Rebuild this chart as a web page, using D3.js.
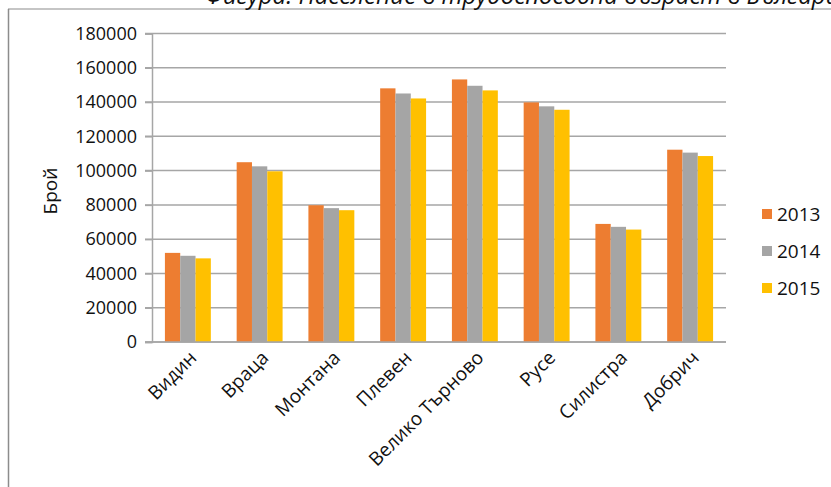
<!DOCTYPE html>
<html><head><meta charset="utf-8">
<script src="https://cdn.jsdelivr.net/npm/d3@7"></script>
<style>
body{margin:0;background:#fff;}
svg{display:block;font-family:"Open Sans","Noto Sans",sans-serif;}
</style></head>
<body><svg id="c" width="831" height="487"></svg>
<script>
const categories = ["Видин","Враца","Монтана","Плевен","Велико Търново","Русе","Силистра","Добрич"];
const seriesNames = ["2013","2014","2015"];
const v2013 = [52000,104900,79800,148000,153200,139800,68900,112200];
const v2014 = [50300,102500,78100,145000,149500,137500,67200,110500];
const v2015 = [48800,99600,76900,142100,146800,135500,65600,108500];
const yTicks = [0,20000,40000,60000,80000,100000,120000,140000,160000,180000];
const colors = ["#ED7D31","#A5A5A5","#FFC000"];
const titleText = "Фигура: Население в трудоспособна възраст в България";
const yLabel = "Брой";

(function(){
const series = [v2013, v2014, v2015];
const svg = d3.select("#c");
const FF = "'Open Sans','Noto Sans',sans-serif";

// frame
svg.append("line").attr("x1",8).attr("x2",831).attr("y1",9).attr("y2",9).attr("stroke","#8c8c8c").attr("stroke-width",1.2);
svg.append("line").attr("x1",8.5).attr("x2",8.5).attr("y1",9).attr("y2",487).attr("stroke","#8c8c8c").attr("stroke-width",1.5);

svg.append("text").attr("x",205).attr("y",4).attr("font-size",24).attr("font-style","italic").attr("fill","#111").text(titleText);

const pl=152, pr=726, pt=33.5, pb=342;
const y = d3.scaleLinear().domain([0,180000]).range([pb,pt]);
const x0 = d3.scaleBand().domain(categories).range([pl,pr]).paddingInner(0.36).paddingOuter(0.18);
const x1 = d3.scaleBand().domain(seriesNames).range([0,x0.bandwidth()]);

// gridlines
svg.append("g").selectAll("line").data(yTicks).join("line")
  .attr("x1",145).attr("x2",pr).attr("y1",d=>y(d)).attr("y2",d=>y(d))
  .attr("stroke","#a6a6a6").attr("stroke-width",1.5);

// y axis
const yAxis = svg.append("g").attr("transform",`translate(${pl},0)`)
  .call(d3.axisLeft(y).tickValues(yTicks).tickFormat(d3.format("d")).tickSize(7).tickPadding(8));
yAxis.select(".domain").attr("stroke","#a6a6a6").attr("stroke-width",1.5);
yAxis.selectAll(".tick line").attr("stroke","#a6a6a6").attr("stroke-width",1.5);
yAxis.selectAll("text").attr("font-size",18).attr("fill","#111").attr("font-family",FF);

svg.append("text").attr("transform","translate(57,191) rotate(-90)").attr("text-anchor","middle")
  .attr("font-size",19).attr("fill","#111").text(yLabel);

// bars
const g = svg.append("g");
categories.forEach((c,i)=>{
  series.forEach((s,j)=>{
    g.append("rect").attr("x",x0(c)+x1(seriesNames[j])).attr("width",x1.bandwidth())
      .attr("y",y(s[i])).attr("height",pb-y(s[i])).attr("fill",colors[j]);
  });
});

// x axis line
svg.append("line").attr("x1",145).attr("x2",pr).attr("y1",pb).attr("y2",pb).attr("stroke","#a6a6a6").attr("stroke-width",1.5);

// x labels
const xa = svg.append("g").attr("transform",`translate(0,${pb})`)
  .call(d3.axisBottom(x0).tickSize(0).tickPadding(0));
xa.select(".domain").remove();
xa.selectAll("text").attr("font-size",19).attr("fill","#111").attr("font-family",FF)
  .attr("text-anchor","end").attr("dy",0).attr("transform","translate(10,17) rotate(-45)");

// legend
const lg = svg.append("g");
seriesNames.forEach((n,j)=>{
  const yy = 214 + j*37;
  lg.append("rect").attr("x",762).attr("y",yy-5).attr("width",10).attr("height",10).attr("fill",colors[j]);
  lg.append("text").attr("x",777).attr("y",yy).attr("dy","0.35em").attr("font-size",19).attr("fill","#111").text(n);
});
})();
</script></body></html>
